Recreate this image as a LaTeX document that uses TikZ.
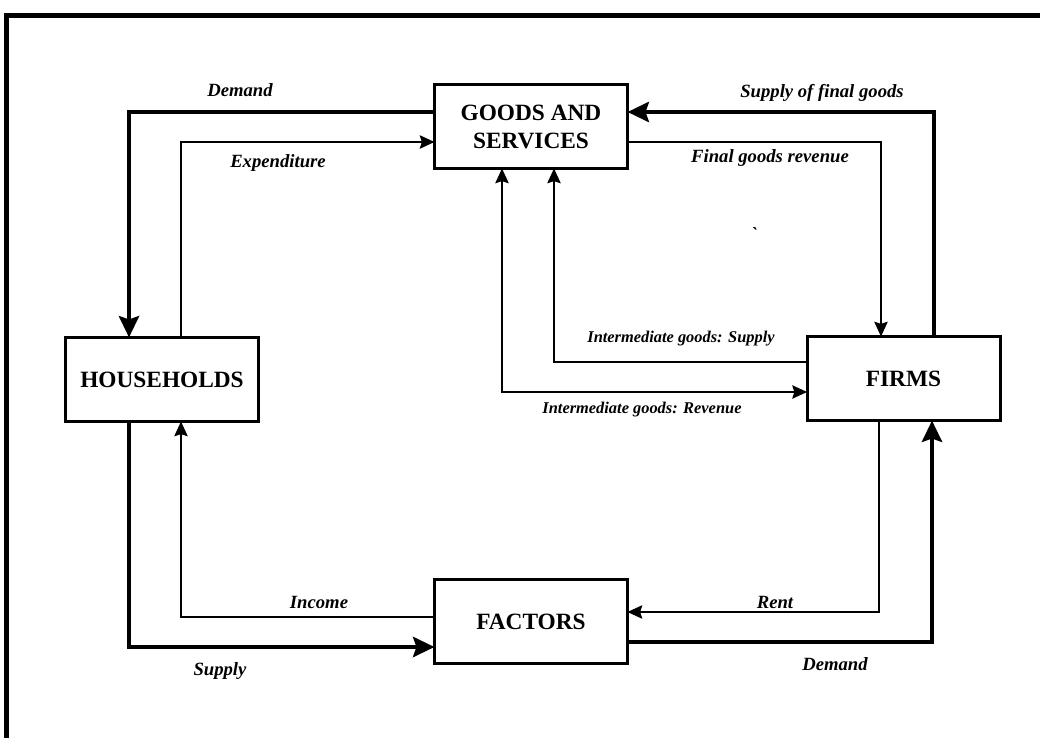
\documentclass[tikz,border=0pt]{standalone}
\usepackage{fontspec}
\setmainfont{Liberation Serif}
\usetikzlibrary{arrows.meta}
\begin{document}
\begin{tikzpicture}[x=0.75pt,y=-0.75pt,
  box/.style={draw,line width=2.25pt,minimum width=144.75pt,minimum height=63pt,
    inner sep=0pt,outer sep=0pt,align=center,
    font=\fontsize{17.5}{21}\selectfont\bfseries},
  flowthick/.style={line width=3.4pt,-{Stealth[length=16pt,width=15pt,inset=2.5pt]}},
  flowthin/.style={line width=1.5pt,-{Stealth[length=11pt,width=10pt,inset=1.5pt]}},
  flowboth/.style={line width=1.5pt,{Stealth[length=11pt,width=10pt,inset=1.5pt]}-{Stealth[length=11pt,width=10pt,inset=1.5pt]}},
  lbl/.style={font=\fontsize{14}{16}\selectfont\bfseries\itshape,anchor=base,inner sep=0pt},
  lblsmall/.style={font=\fontsize{12.3}{14}\selectfont\bfseries\itshape,anchor=base,inner sep=0pt}]

\useasboundingbox (0,0) rectangle (1040,738);
% outer frame
\draw[line width=3.75pt] (6.5,738) -- (6.5,15.5) -- (1040,15.5);

% sectors
\node[box] (gs) at (531,126.5) {GOODS AND\\SERVICES};
\node[box] (hh) at (162,379.5) {HOUSEHOLDS};
\node[box] (fi) at (903.5,378.5) {FIRMS};
\node[box] (fa) at (531,621.5) {FACTORS};

% households <-> goods market
\draw[flowthick] (gs.west |- 0,112) -| (hh.north -| 129,0);
\draw[flowthin] (hh.north -| 181,0) |- (gs.west |- 0,142);
% firms <-> goods market
\draw[flowthick] (fi.north -| 934,0) |- (gs.east |- 0,112);
\draw[flowthin] (gs.east |- 0,142) -| (fi.north -| 881,0);
% intermediate goods
\draw[flowthin] (fi.west |- 0,362) -| (gs.south -| 554,0);
\draw[flowboth] (gs.south -| 502,0) |- (fi.west |- 0,392);
% factor market
\draw[flowthin] (fa.west |- 0,617) -| (hh.south -| 181,0);
\draw[flowthick] (hh.south -| 129,0) |- (fa.west |- 0,647);
\draw[flowthin] (fi.south -| 879,0) |- (fa.east |- 0,612);
\draw[flowthick] (fa.east |- 0,642) -| (fi.south -| 932,0);

% flow labels
\node[lbl] (l1) at (240,97) {Demand};
\node[lbl] (l2) at (278,168) {Expenditure};
\node[lbl] (l3) at (822,98) {Supply of final goods};
\node[lbl] (l4) at (770,163) {Final goods revenue};
\node[lblsmall] (l5) at (681,343) {Intermediate goods: Supply};
\node[lblsmall] (l6) at (642,413) {Intermediate goods: Revenue};
\node[lbl] (l7) at (319,608) {Income};
\node[lbl] (l8) at (220,675) {Supply};
\node[lbl] (l9) at (775,608) {Rent};
\node[lbl] (l10) at (835,670) {Demand};
\node[lbl] (tick) at (754,241) {\textasciigrave};
\end{tikzpicture}
\end{document}
